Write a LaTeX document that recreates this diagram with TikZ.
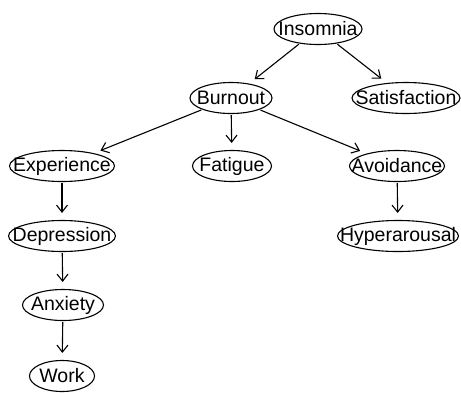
\documentclass[tikz,border=0pt]{standalone}
\usepackage{fontspec}
\setmainfont{Liberation Sans}
\usetikzlibrary{shapes.geometric,arrows.meta}
\begin{document}
\begin{tikzpicture}[x=1pt,y=-1pt,
  el/.style={draw, ellipse, line width=1.1pt, inner sep=0pt, minimum height=31pt},
  every label/.style={font=\fontsize{19.5}{19.5}\selectfont, inner sep=0pt},
  edge/.style={-{Straight Barb[length=7pt,width=11pt]}, line width=1.1pt, shorten >=7pt, shorten <=1pt}]
\useasboundingbox[fill=white] (0,0) rectangle (461,392);
\node[el, minimum width=88pt, label={center:Insomnia}] (ins) at (318,29) {};
\node[el, minimum width=82pt, label={center:Burnout}] (bur) at (231,98) {};
\node[el, minimum width=108pt, label={center:Satisfaction}] (sat) at (406,98) {};
\node[el, minimum width=105pt, label={center:Experience}] (exp) at (62,166) {};
\node[el, minimum width=79pt, label={center:Fatigue}] (fat) at (232,166) {};
\node[el, minimum width=95pt, label={center:Avoidance}] (avo) at (397,166) {};
\node[el, minimum width=107pt, label={center:Depression}] (dep) at (62,236) {};
\node[el, minimum width=121pt, label={center:Hyperarousal}] (hyp) at (398,236) {};
\node[el, minimum width=81pt, label={center:Anxiety}] (anx) at (63,305) {};
\node[el, minimum width=65pt, label={center:Work}] (wrk) at (62,376) {};
\draw[edge] (ins) -- (bur);
\draw[edge] (ins) -- (sat);
\draw[edge] (bur) -- (exp);
\draw[edge] (bur) -- (fat);
\draw[edge] (bur) -- (avo);
\draw[edge] (exp) -- (dep);
\draw[edge] (dep) -- (anx);
\draw[edge] (anx) -- (wrk);
\draw[edge] (avo) -- (hyp);
\end{tikzpicture}
\end{document}
